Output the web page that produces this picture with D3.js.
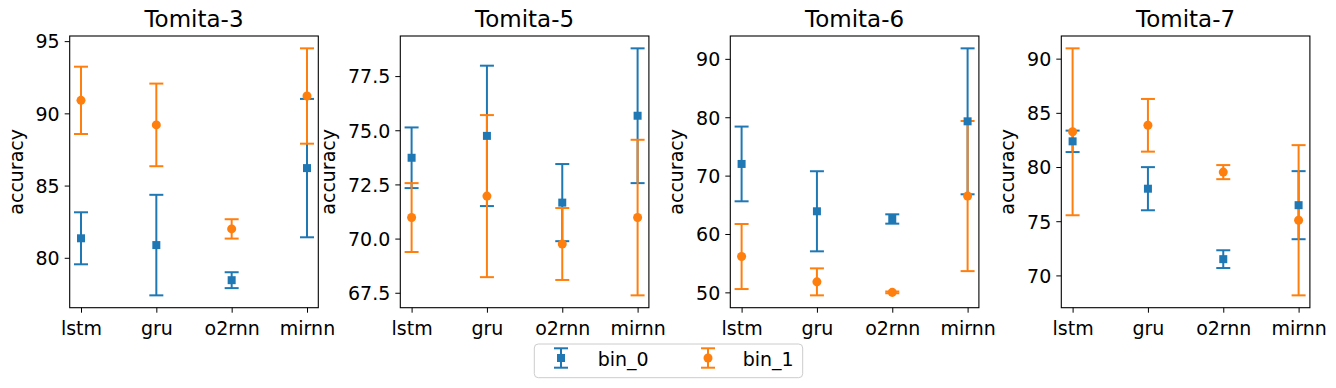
<!DOCTYPE html>
<html>
<head>
<meta charset="utf-8">
<script src="https://cdn.jsdelivr.net/npm/d3@7"></script>
<style>
  body { margin: 0; background: #fff; }
  svg { font-family: "DejaVu Sans", sans-serif; }
</style>
</head>
<body>
<svg width="1336" height="388"></svg>
<script>
// four panels of mean accuracy +- error, two bins per model
var models = ["lstm", "gru", "o2rnn", "mirnn"];
var titles = ["Tomita-3", "Tomita-5", "Tomita-6", "Tomita-7"];
var seriesNames = ["bin_0", "bin_1"];

var bin0Mean = [
  [81.35, 80.88, 78.45, 86.21],
  [73.73, 74.74, 71.66, 75.67],
  [72.0, 63.89, 62.57, 79.3],
  [82.37, 78.0, 71.5, 76.48]
];
var bin0Err = [
  [1.8, 3.48, 0.55, 4.79],
  [1.4, 3.24, 1.78, 3.11],
  [6.4, 6.86, 0.8, 12.5],
  [0.99, 1.99, 0.82, 3.14]
];
var bin1Mean = [
  [90.9, 89.2, 82.0, 91.2],
  [70.97, 71.96, 69.75, 70.97],
  [56.14, 51.8, 50.0, 66.5],
  [83.25, 83.85, 79.53, 75.09]
];
var bin1Err = [
  [2.33, 2.86, 0.67, 3.3],
  [1.59, 3.74, 1.66, 3.59],
  [5.57, 2.31, 0.15, 12.86],
  [7.7, 2.43, 0.65, 6.93]
];
var yTicks = [
  [80, 85, 90, 95],
  [67.5, 70.0, 72.5, 75.0, 77.5],
  [50, 60, 70, 80, 90],
  [70, 75, 80, 85, 90]
];
var yFormats = [",d", ".1f", ",d", ",d"];

var colors = ["#1f77b4", "#ff7f0e"];
var fontSize = 19;
var titleSize = 23;
var panelLeft = [69.7, 400.3, 730.3, 1061.3];
var panelWidth = 248.6;
var plotTop = 36, plotBottom = 307.7;
var capHalf = 7;

var svg = d3.select("svg");

function drawPanel(p) {
  var series = [
    {name: seriesNames[0], mean: bin0Mean[p], err: bin0Err[p], color: colors[0], shape: d3.symbolSquare},
    {name: seriesNames[1], mean: bin1Mean[p], err: bin1Err[p], color: colors[1], shape: d3.symbolCircle}
  ];

  // matplotlib style autoscale: data range plus 5% margins
  var lo = d3.min(series, function(s) { return d3.min(s.mean, function(m, i) { return m - s.err[i]; }); });
  var hi = d3.max(series, function(s) { return d3.max(s.mean, function(m, i) { return m + s.err[i]; }); });
  var pad = (hi - lo) * 0.05;

  var h = plotBottom - plotTop;
  // categories at 0..3 with 0.15 margin each side
  var x = d3.scaleLinear().domain([-0.15, 3.15]).range([0, panelWidth]);
  var y = d3.scaleLinear().domain([lo - pad, hi + pad]).range([h, 0]);

  var g = svg.append("g").attr("transform", "translate(" + panelLeft[p] + "," + plotTop + ")");

  var xAxis = d3.axisBottom(x).tickValues([0, 1, 2, 3]).tickFormat(function(i) { return models[i]; })
    .tickSize(5).tickPadding(4).tickSizeOuter(0);
  var yAxis = d3.axisLeft(y).tickValues(yTicks[p]).tickFormat(d3.format(yFormats[p]))
    .tickSize(5).tickPadding(5).tickSizeOuter(0);

  var gx = g.append("g").attr("transform", "translate(0," + h + ")").call(xAxis);
  var gy = g.append("g").call(yAxis);
  [gx, gy].forEach(function(a) {
    a.attr("font-family", null).attr("font-size", null);
    a.select(".domain").remove();
    a.selectAll("text").attr("font-size", fontSize).attr("fill", "#000");
    a.selectAll("line").attr("stroke", "#000").attr("stroke-width", 1);
  });
  gx.selectAll("text").attr("dy", null).attr("y", 27.5);
  gy.selectAll("text").attr("dy", "0.36em");

  g.append("rect").attr("width", panelWidth).attr("height", h)
    .attr("fill", "none").attr("stroke", "#000").attr("stroke-width", 1.1);

  // y label, just left of tick labels
  var bb = gy.node().getBBox();
  g.append("text")
    .attr("transform", "translate(" + (bb.x - 13) + "," + (h / 2) + ") rotate(-90)")
    .attr("text-anchor", "middle")
    .attr("font-size", fontSize)
    .text("accuracy");

  g.append("text")
    .attr("x", panelWidth / 2).attr("y", -9.3)
    .attr("text-anchor", "middle")
    .attr("font-size", titleSize)
    .text(titles[p]);

  // error bars first, then markers on top
  series.forEach(function(s) {
    var bars = g.append("g").attr("stroke", s.color).attr("stroke-width", 2).attr("fill", "none");
    s.mean.forEach(function(m, i) {
      var cx = x(i), y1 = y(m + s.err[i]), y0 = y(m - s.err[i]);
      bars.append("line").attr("x1", cx).attr("x2", cx).attr("y1", y1).attr("y2", y0);
      bars.append("line").attr("x1", cx - capHalf).attr("x2", cx + capHalf).attr("y1", y1).attr("y2", y1);
      bars.append("line").attr("x1", cx - capHalf).attr("x2", cx + capHalf).attr("y1", y0).attr("y2", y0);
    });
  });
  series.forEach(function(s) {
    g.append("g").selectAll("path").data(s.mean).join("path")
      .attr("d", d3.symbol().type(s.shape).size(64))
      .attr("transform", function(m, i) { return "translate(" + x(i) + "," + y(m) + ")"; })
      .attr("fill", s.color);
  });
}

for (var p = 0; p < titles.length; p++) drawPanel(p);

// legend centered under the figure
var legend = svg.append("g").attr("transform", "translate(534.3,344)");
legend.append("rect").attr("width", 268.4).attr("height", 33.7).attr("rx", 4)
  .attr("fill", "#fff").attr("fill-opacity", 0.8).attr("stroke", "#ccc").attr("stroke-width", 1);
var itemX = [26.7, 173.7];
var textX = [63.4, 208.4];
seriesNames.forEach(function(name, k) {
  var it = legend.append("g").attr("transform", "translate(" + itemX[k] + ",14)");
  it.append("line").attr("y1", -9.7).attr("y2", 9.7).attr("stroke", colors[k]).attr("stroke-width", 2);
  it.append("line").attr("x1", -capHalf).attr("x2", capHalf).attr("y1", -9.7).attr("y2", -9.7).attr("stroke", colors[k]).attr("stroke-width", 2);
  it.append("line").attr("x1", -capHalf).attr("x2", capHalf).attr("y1", 9.7).attr("y2", 9.7).attr("stroke", colors[k]).attr("stroke-width", 2);
  it.append("path").attr("d", d3.symbol().type(k == 0 ? d3.symbolSquare : d3.symbolCircle).size(64)).attr("fill", colors[k]);
  legend.append("text").attr("x", textX[k]).attr("y", 21.7).attr("font-size", fontSize).text(name);
});
</script>
</body>
</html>
